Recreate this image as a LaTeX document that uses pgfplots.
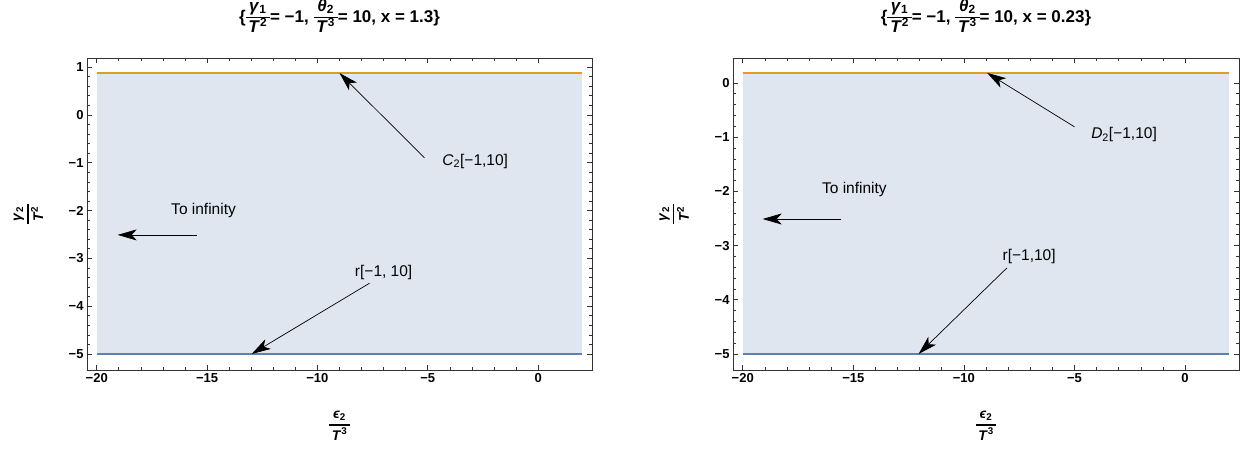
\documentclass[border=0pt]{standalone}
\usepackage{fontspec}
\setmainfont{Liberation Sans}
\usepackage{pgfplots}
\pgfplotsset{compat=1.18}
\usetikzlibrary{arrows.meta}

\definecolor{morange}{HTML}{E19C24}
\definecolor{mblue}{HTML}{5E81B5}
\definecolor{mfill}{HTML}{DFE6F0}
\definecolor{mframe}{HTML}{333333}

% stacked fraction in the text font (Mathematica style)
\setlength{\arrayrulewidth}{1.2bp}
\newcommand{\fr}[3][1.1]{$\vcenter{\hbox{\def\arraystretch{#1}\begin{tabular}{@{\,}c@{\,}}#2\\\hline #3\end{tabular}}}$}

\tikzset{
  arr/.style={-{Stealth[length=19bp,width=11bp,inset=5bp]}, line width=0.7bp, black},
  lab/.style={font=\fontsize{15.5bp}{18bp}\selectfont},
}

\pgfplotsset{
  mma/.style={
    scale only axis,
    width=505bp, height=312bp,
    axis line style={mframe, line width=0.8bp},
    tick style={mframe, line width=0.6bp},
    tick align=inside,
    major tick length=5bp,
    minor tick length=3bp,
    xmin=-20.44, xmax=2.44,
    xtick={-20,-15,-10,-5,0},
    xticklabels={−20,−15,−10,−5,0},
    minor x tick num=4,
    minor y tick num=4,
    ticklabel style={font=\fontsize{13bp}{15bp}\selectfont\bfseries},
    xlabel={\fr[1.3]{\textit{ϵ}\textsubscript{2}}{\textit{T}\textsuperscript{3}}},
    xlabel style={at={(axis description cs:0.5,-0.176)}, anchor=center, font=\fontsize{14bp}{16bp}\selectfont\bfseries},
    ylabel={\fr[1.3]{\textit{γ}\textsubscript{2}}{\textit{T}\textsuperscript{2}}},
    ylabel style={at={(axis description cs:-0.117,0.5)}, anchor=center, font=\fontsize{14bp}{16bp}\selectfont\bfseries},
    title style={at={(axis description cs:0.5,1.109)}, anchor=center, font=\fontsize{17bp}{18bp}\selectfont\bfseries},
    clip=false,
  },
}

\begin{document}
\begin{tikzpicture}[x=1bp,y=1bp]
\path[use as bounding box] (0,0) rectangle (1254,449);

% left panel
\begin{axis}[mma, at={(87bp,79bp)},
    ymin=-5.335, ymax=1.19,
    ytick={-5,-4,-3,-2,-1,0,1},
    yticklabels={−5,−4,−3,−2,−1,0,1},
    title={\{\fr{\textit{γ}\textsubscript{1}}{\textit{T}\textsuperscript{2}}= −1, \fr{\textit{θ}\textsubscript{2}}{\textit{T}\textsuperscript{3}}= 10, x = 1.3\}},
  ]
\addplot[fill=mfill, draw=none] coordinates {(-20,-5) (2,-5) (2,0.875) (-20,0.875)} -- cycle;
\addplot[morange, line width=2.6bp] coordinates {(-20,0.875) (2,0.875)};
\addplot[mblue, line width=2.6bp] coordinates {(-20,-5) (2,-5)};
\draw[arr] (-5.15,-0.90) -- (-9,0.875);
\node[lab, anchor=west] at (-4.5,-0.97) {\textit{C}\textsubscript{2}[−1,10]};
\node[lab] at (-15.16,-1.99) {To infinity};
\draw[arr] (-15.47,-2.51) -- (-19.05,-2.51);
\node[lab] at (-7.0,-3.29) {r[−1, 10]};
\draw[arr] (-7.64,-3.52) -- (-12.98,-5);
\end{axis}

% right panel
\begin{axis}[mma, at={(733bp,79bp)}, width=506bp,
    ymin=-5.295, ymax=0.46,
    ytick={-5,-4,-3,-2,-1,0},
    yticklabels={−5,−4,−3,−2,−1,0},
    title={\{\fr{\textit{γ}\textsubscript{1}}{\textit{T}\textsuperscript{2}}= −1, \fr{\textit{θ}\textsubscript{2}}{\textit{T}\textsuperscript{3}}= 10, x = 0.23\}},
  ]
\addplot[fill=mfill, draw=none] coordinates {(-20,-5) (2,-5) (2,0.185) (-20,0.185)} -- cycle;
\addplot[morange, line width=2.6bp] coordinates {(-20,0.185) (2,0.185)};
\addplot[mblue, line width=2.6bp] coordinates {(-20,-5) (2,-5)};
\draw[arr] (-5.0,-0.81) -- (-8.95,0.185);
\node[lab, anchor=west] at (-4.4,-0.96) {\textit{D}\textsubscript{2}[−1,10]};
\node[lab] at (-14.95,-1.97) {To infinity};
\draw[arr] (-15.55,-2.51) -- (-19.1,-2.51);
\node[lab] at (-7.05,-3.21) {r[−1,10]};
\draw[arr] (-8.05,-3.41) -- (-12.05,-5);
\end{axis}
\end{tikzpicture}
\end{document}
